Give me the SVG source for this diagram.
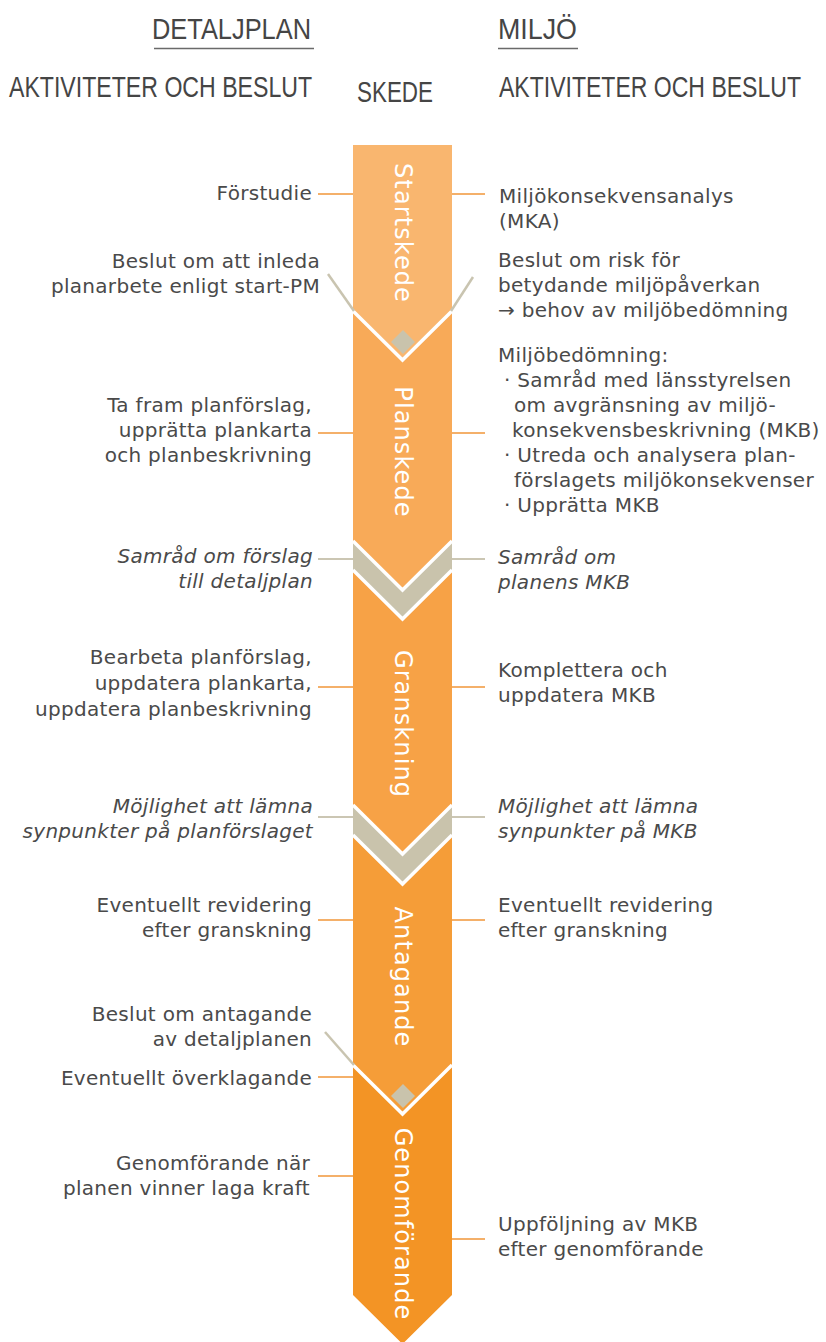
<svg xmlns="http://www.w3.org/2000/svg" width="826" height="1342" viewBox="0 0 826 1342">
  <style>
    .hdr { font-family: "Liberation Sans", Arial, sans-serif; font-size: 30px; fill: #454545; }
    .lbl { font-family: "DejaVu Sans", Verdana, sans-serif; font-size: 20px; fill: #4a4a4a; letter-spacing: 0.3px; }
    .it { font-style: italic; }
    .end { text-anchor: end; }
    .stage { font-family: "DejaVu Sans", Verdana, sans-serif; font-size: 24px; fill: #ffffff; letter-spacing: 1.1px; text-anchor: middle; }
    .conn-o { stroke: #F4B06A; stroke-width: 2; fill: none; }
    .conn-g { stroke: #CBC6B3; stroke-width: 2; fill: none; }
    .diag { stroke: #C9C4B0; stroke-width: 2.5; fill: none; }
    .sep { stroke: #ffffff; stroke-width: 3.5; fill: none; stroke-linejoin: miter; }
    .band { fill: #C9C3AC; }
  </style>

  <rect width="826" height="1342" fill="#ffffff"/>

  <!-- column headings (condensed by horizontal scaling) -->
  <g id="headings">
    <text class="hdr" transform="translate(152,39) scale(0.847,1)">DETALJPLAN</text>
    <line x1="154" y1="48.5" x2="314" y2="48.5" stroke="#6a6a6a" stroke-width="1.3"/>
    <text class="hdr" transform="translate(498,39) scale(0.894,1)">MILJÖ</text>
    <line x1="498" y1="48.5" x2="578" y2="48.5" stroke="#6a6a6a" stroke-width="1.3"/>
    <text class="hdr" transform="translate(9,97) scale(0.771,1)">AKTIVITETER OCH BESLUT</text>
    <text class="hdr" transform="translate(357,102) scale(0.747,1)">SKEDE</text>
    <text class="hdr" transform="translate(499,97) scale(0.768,1)">AKTIVITETER OCH BESLUT</text>
  </g>

  <!-- stage column -->
  <g id="stage-startskede">
    <polygon points="353,145 452,145 452,311 402.5,360 353,311" fill="#F9B66F"/>
    <text class="stage" transform="translate(395,233) rotate(90)">Startskede</text>
  </g>
  <g id="stage-planskede">
    <polygon points="353,311 402.5,360 452,311 452,541 402.5,590 353,541" fill="#F8AA58"/>
    <text class="stage" transform="translate(395,452) rotate(90)">Planskede</text>
  </g>
  <g id="gate-samrad">
    <polygon class="band" points="353,541 402.5,590 452,541 452,570 402.5,619 353,570"/>
  </g>
  <g id="stage-granskning">
    <polygon points="353,570 402.5,619 452,570 452,805 402.5,854 353,805" fill="#F7A246"/>
    <text class="stage" transform="translate(395,724) rotate(90)">Granskning</text>
  </g>
  <g id="gate-granskning">
    <polygon class="band" points="353,805 402.5,854 452,805 452,835 402.5,884 353,835"/>
  </g>
  <g id="stage-antagande">
    <polygon points="353,835 402.5,884 452,835 452,1065 402.5,1114 353,1065" fill="#F59D38"/>
    <text class="stage" transform="translate(395,977) rotate(90)">Antagande</text>
  </g>
  <g id="stage-genomforande">
    <polygon points="353,1065 402.5,1114 452,1065 452,1295 402.5,1344 353,1295" fill="#F39425"/>
    <text class="stage" transform="translate(395,1224) rotate(90)">Genomförande</text>
  </g>

  <!-- decision markers and chevron separators -->
  <g id="separators">
    <polygon class="band" points="403,330 415,342 403,354 391,342"/>
    <polygon class="band" points="403,1084 415,1096 403,1108 391,1096"/>
    <polyline class="sep" points="353,311 402.5,360 452,311"/>
    <polyline class="sep" points="353,541 402.5,590 452,541"/>
    <polyline class="sep" points="353,570 402.5,619 452,570"/>
    <polyline class="sep" points="353,805 402.5,854 452,805"/>
    <polyline class="sep" points="353,835 402.5,884 452,835"/>
    <polyline class="sep" points="353,1065 402.5,1114 452,1065"/>
  </g>

  <!-- connectors -->
  <g id="connectors">
    <line class="conn-o" x1="318" y1="194" x2="353" y2="194"/>
    <line class="conn-o" x1="452" y1="194" x2="485" y2="194"/>
    <line class="diag" x1="328" y1="274" x2="354" y2="311"/>
    <line class="diag" x1="473" y1="277" x2="451" y2="311"/>
    <line class="conn-o" x1="318" y1="433" x2="353" y2="433"/>
    <line class="conn-o" x1="452" y1="433" x2="485" y2="433"/>
    <line class="conn-g" x1="318" y1="559" x2="353" y2="559"/>
    <line class="conn-g" x1="452" y1="559" x2="485" y2="559"/>
    <line class="conn-o" x1="318" y1="687" x2="353" y2="687"/>
    <line class="conn-o" x1="452" y1="687" x2="485" y2="687"/>
    <line class="conn-g" x1="318" y1="817" x2="353" y2="817"/>
    <line class="conn-g" x1="452" y1="817" x2="485" y2="817"/>
    <line class="conn-o" x1="318" y1="920" x2="353" y2="920"/>
    <line class="conn-o" x1="452" y1="920" x2="485" y2="920"/>
    <line class="diag" x1="325" y1="1032" x2="354" y2="1065"/>
    <line class="conn-o" x1="318" y1="1077" x2="353" y2="1077"/>
    <line class="conn-o" x1="318" y1="1176" x2="353" y2="1176"/>
    <line class="conn-o" x1="452" y1="1239" x2="485" y2="1239"/>
  </g>

  <!-- detaljplan activities -->
  <g id="dp-forstudie"><text class="lbl end" x="312" y="200">Förstudie</text></g>
  <g id="dp-startbeslut">
    <text class="lbl end" x="320" y="268">Beslut om att inleda</text>
    <text class="lbl end" x="320" y="293">planarbete enligt start-PM</text>
  </g>
  <g id="dp-planforslag">
    <text class="lbl end" x="312" y="412">Ta fram planförslag,</text>
    <text class="lbl end" x="312" y="437">upprätta plankarta</text>
    <text class="lbl end" x="312" y="462">och planbeskrivning</text>
  </g>
  <g id="dp-samrad">
    <text class="lbl it end" x="313" y="563">Samråd om förslag</text>
    <text class="lbl it end" x="313" y="588">till detaljplan</text>
  </g>
  <g id="dp-bearbeta">
    <text class="lbl end" x="312" y="664">Bearbeta planförslag,</text>
    <text class="lbl end" x="312" y="690">uppdatera plankarta,</text>
    <text class="lbl end" x="312" y="716">uppdatera planbeskrivning</text>
  </g>
  <g id="dp-synpunkter">
    <text class="lbl it end" x="313" y="813">Möjlighet att lämna</text>
    <text class="lbl it end" x="313" y="838">synpunkter på planförslaget</text>
  </g>
  <g id="dp-revidering">
    <text class="lbl end" x="312" y="912">Eventuellt revidering</text>
    <text class="lbl end" x="312" y="937">efter granskning</text>
  </g>
  <g id="dp-antagande">
    <text class="lbl end" x="312" y="1021">Beslut om antagande</text>
    <text class="lbl end" x="312" y="1046">av detaljplanen</text>
  </g>
  <g id="dp-overklagande"><text class="lbl end" x="312" y="1085">Eventuellt överklagande</text></g>
  <g id="dp-genomforande">
    <text class="lbl end" x="310" y="1170">Genomförande när</text>
    <text class="lbl end" x="310" y="1195">planen vinner laga kraft</text>
  </g>

  <!-- miljö activities -->
  <g id="mi-mka">
    <text class="lbl" x="499" y="203">Miljökonsekvensanalys</text>
    <text class="lbl" x="499" y="228">(MKA)</text>
  </g>
  <g id="mi-riskbeslut">
    <text class="lbl" x="498" y="267">Beslut om risk för</text>
    <text class="lbl" x="498" y="292">betydande miljöpåverkan</text>
    <text class="lbl" x="498" y="317">→ behov av miljöbedömning</text>
  </g>
  <g id="mi-bedomning">
    <text class="lbl" x="498" y="362">Miljöbedömning:</text>
    <text class="lbl" x="504" y="387">· Samråd med länsstyrelsen</text>
    <text class="lbl" x="514" y="412">om avgränsning av miljö-</text>
    <text class="lbl" x="512" y="437">konsekvensbeskrivning (MKB)</text>
    <text class="lbl" x="504" y="462">· Utreda och analysera plan-</text>
    <text class="lbl" x="514" y="487">förslagets miljökonsekvenser</text>
    <text class="lbl" x="504" y="512">· Upprätta MKB</text>
  </g>
  <g id="mi-samrad">
    <text class="lbl it" x="498" y="564">Samråd om</text>
    <text class="lbl it" x="498" y="589">planens MKB</text>
  </g>
  <g id="mi-komplettera">
    <text class="lbl" x="498" y="677">Komplettera och</text>
    <text class="lbl" x="498" y="702">uppdatera MKB</text>
  </g>
  <g id="mi-synpunkter">
    <text class="lbl it" x="498" y="813">Möjlighet att lämna</text>
    <text class="lbl it" x="498" y="838">synpunkter på MKB</text>
  </g>
  <g id="mi-revidering">
    <text class="lbl" x="498" y="912">Eventuellt revidering</text>
    <text class="lbl" x="498" y="937">efter granskning</text>
  </g>
  <g id="mi-uppfoljning">
    <text class="lbl" x="498" y="1231">Uppföljning av MKB</text>
    <text class="lbl" x="498" y="1256">efter genomförande</text>
  </g>
</svg>
